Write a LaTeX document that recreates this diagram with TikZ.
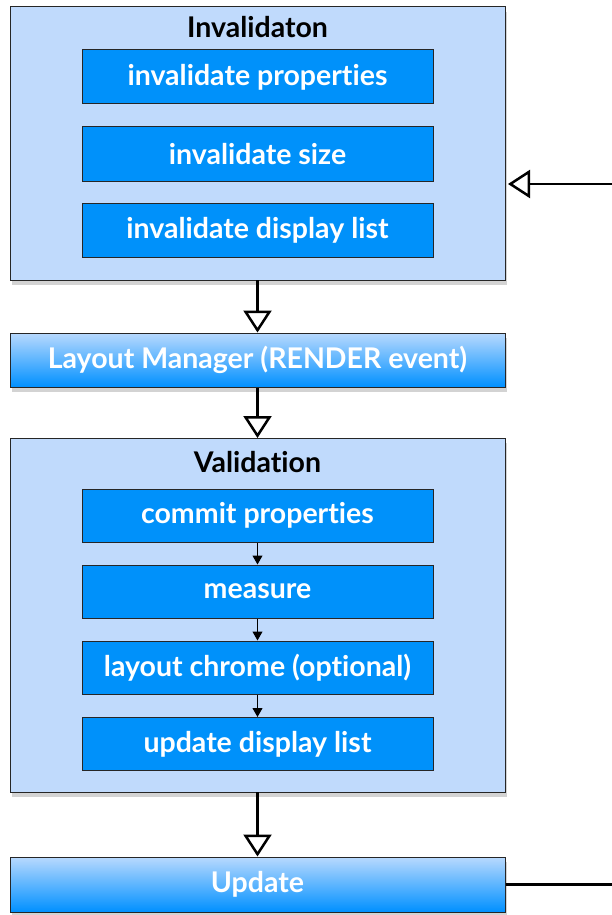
\documentclass[tikz,border=0pt]{standalone}
\usepackage{fontspec}
\setmainfont{Lato}[Ligatures={NoCommon,NoContextual,NoRequired}]
\usetikzlibrary{arrows.meta,shadows,positioning}
\newcommand{\nolig}{\kern0pt{}}
\definecolor{outerfill}{HTML}{C0DAFC}
\definecolor{innerfill}{HTML}{0091FA}
\definecolor{gradtop}{HTML}{B8D9FE}
\definecolor{gradbot}{HTML}{0090FF}
\tikzset{
  outerbox/.style={draw=black!85, line width=1pt, fill=outerfill,
    drop shadow={shadow xshift=2pt, shadow yshift=-5pt, opacity=0.35}},
  innerbox/.style={draw=black!85, line width=1pt, fill=innerfill,
    text=white, font=\fontsize{28.5}{32}\selectfont\bfseries},
  gradbox/.style={draw=black!85, line width=1pt, top color=gradtop, bottom color=gradbot,
    text=white, font=\fontsize{28.5}{32}\selectfont\bfseries,
    drop shadow={shadow xshift=2pt, shadow yshift=-5pt, opacity=0.35}},
  titletext/.style={text=black, font=\fontsize{28.5}{32}\selectfont\bfseries},
  bigarrow/.style={line width=2.5pt, -{Triangle[open, length=22pt, width=28pt, line width=2.5pt]}},
  smallarrow/.style={line width=1pt, -{Triangle[length=9pt, width=10pt]}},
  plainline/.style={line width=2.5pt}
}
\begin{document}
\begin{tikzpicture}[x=1pt,y=-1pt]
\useasboundingbox (0,0) rectangle (612,915);
% Invalidation
\path[outerbox] (10,7) rectangle (505,280);
\node[titletext] (invt) at (257.5,27) {Invalidaton};
\node[innerbox, minimum width=351pt, minimum height=54pt] (ip) at (257.5,77) {invalidate propert\nolig ies};
\node[innerbox, minimum width=351pt, minimum height=54pt] (is) at (257.5,154) {invalidate size};
\node[innerbox, minimum width=351pt, minimum height=54pt] (idl) at (257.5,230) {invalidate display list};
\coordinate (invtop) at (257.5,7);
\coordinate (invbot) at (257.5,280);
\coordinate (invright) at (505,184);
% Layout manager
\node[gradbox, minimum width=495pt, minimum height=54pt] (lm) at (257.5,360) {Layout Manager (RENDER event)};
% Validation
\path[outerbox] (10,438) rectangle (505,792);
\coordinate (valtop) at (257.5,438);
\coordinate (valbot) at (257.5,792);
\node[titletext] (valt) at (257.5,462) {Validat\nolig ion};
\node[innerbox, minimum width=351pt, minimum height=53pt] (cp) at (257.5,515.5) {commit propert\nolig ies};
\node[innerbox, minimum width=351pt, minimum height=53pt] (me) at (257.5,591.5) {measure};
\node[innerbox, minimum width=351pt, minimum height=53pt] (lc) at (257.5,667.5) {layout chrome (opt\nolig ional)};
\node[innerbox, minimum width=351pt, minimum height=53pt] (udl) at (257.5,744) {update display list};
% Update
\node[gradbox, minimum width=495pt, minimum height=55pt] (up) at (257.5,884.5) {Update};
% connectors
\coordinate (rin) at (612,184);
\coordinate (rout) at (612,884.5);
\draw[bigarrow] (rin) -- ([xshift=3pt]invright);
\draw[bigarrow] (invbot) -- (lm.north);
\draw[bigarrow] (lm.south) -- (valtop);
\draw[bigarrow] (valbot) -- (up.north);
\draw[plainline] (up.east) -- (rout);
\draw[smallarrow] (cp.south) -- (me.north);
\draw[smallarrow] (me.south) -- (lc.north);
\draw[smallarrow] (lc.south) -- (udl.north);
\end{tikzpicture}
\end{document}
